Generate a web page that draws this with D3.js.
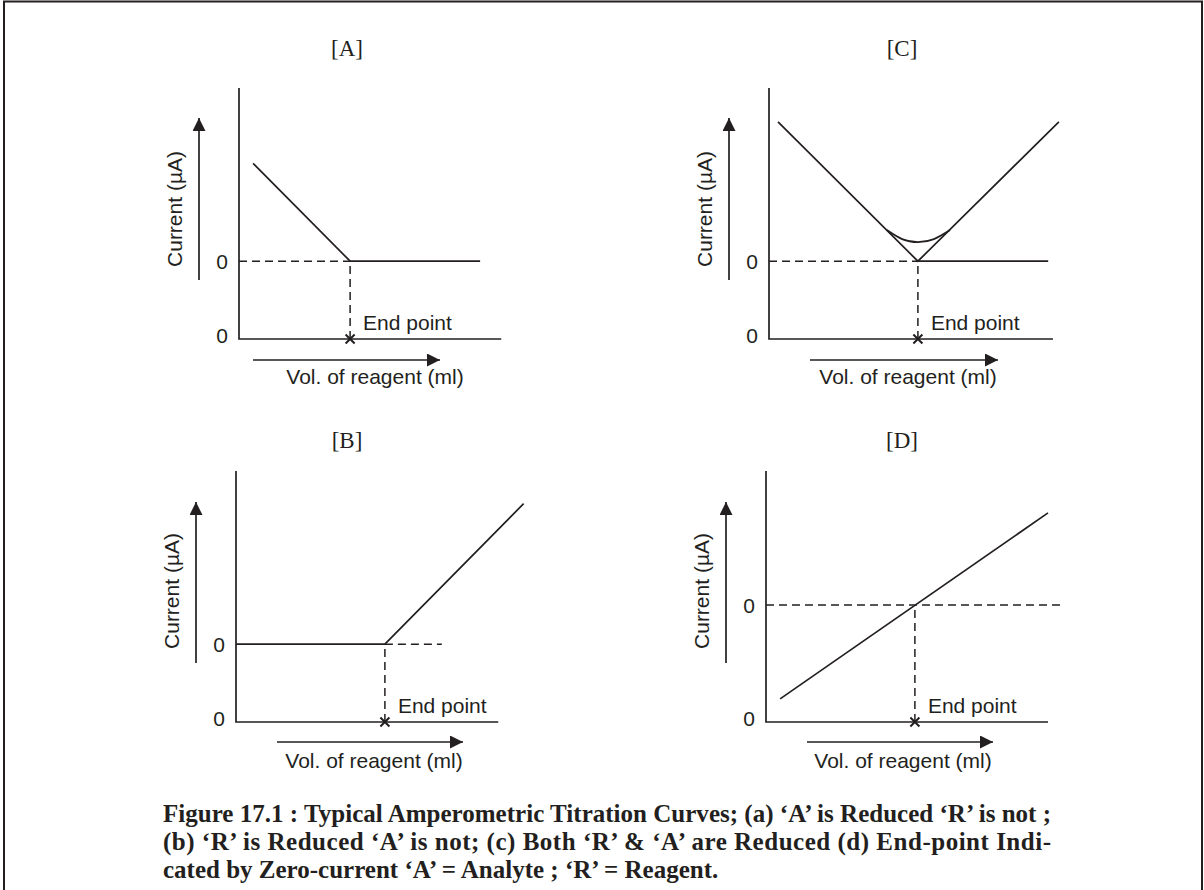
<!DOCTYPE html>
<html>
<head>
<meta charset="utf-8">
<script src="https://cdn.jsdelivr.net/npm/d3@7"></script>
<style>
  body { margin: 0; background: #fff; }
  svg { display: block; }
  .sans { font-family: "Liberation Sans", Arial, sans-serif; font-size: 21px; fill: #231f20; }
</style>
</head>
<body>
<svg width="1204" height="890"></svg>
<script>
// values, in axis units (x: volume 0-10, y: current 0-10)
const panelNames = ['[A]', '[C]', '[B]', '[D]'];
const endPoints = [3.94, 5.28, 5.28, 5.28];
const zeroLevels = [3.1, 3.1, 3.1, 4.66];

const solidA = [[[0.5, 7.0], [3.94, 3.1], [8.55, 3.1]]];
const solidC = [
  [[0.32, 8.65], [5.28, 3.1], [10.28, 8.65]],
  [[5.28, 3.1], [9.9, 3.1]]
];
const roundC = [[4.18, 4.34], [4.72, 3.98], [5.28, 3.86], [5.85, 3.98], [6.42, 4.34]];
const solidB = [[[0, 3.1], [5.28, 3.1], [10.2, 8.7]]];
const solidD = [[[0.5, 0.92], [10.0, 8.33]]];

// dashed guide ends (x from, x to) on the zero level
const dashA = [0, 3.94];
const dashC = [0, 5.28];
const dashB = [5.28, 7.3];
const dashD = [0, 10.5];

const xAxisEnds = [9.3, 10.07, 9.3, 10.0];

const caption = [
  'Figure 17.1 : Typical Amperometric Titration Curves; (a) \u2018A\u2019 is Reduced \u2018R\u2019 is not ;',
  '(b) \u2018R\u2019 is Reduced \u2018A\u2019 is not; (c) Both \u2018R\u2019 & \u2018A\u2019 are Reduced (d) End-point Indi-',
  'cated by Zero-current \u2018A\u2019 = Analyte ; \u2018R\u2019 = Reagent.'
];

// page layout
const ink = '#231f20';
const layout = [
  { x0: 239, y0: 339, tx: 347, ty: 56, yArr: [199, 280, 118], xArr: [360, 253, 440], volX: 375, volY: 384, curY: 209 },
  { x0: 769, y0: 339, tx: 902, ty: 56, yArr: [729, 280, 118], xArr: [360, 810, 998], volX: 908, volY: 384, curY: 209 },
  { x0: 236, y0: 722, tx: 347, ty: 448, yArr: [196, 663, 502], xArr: [742, 277, 463], volX: 374, volY: 768, curY: 591 },
  { x0: 766, y0: 722, tx: 902, ty: 448, yArr: [726, 663, 502], xArr: [742, 807, 993], volX: 903, volY: 768, curY: 591 }
];
const solids = [solidA, solidC, solidB, solidD];
const dashes = [dashA, dashC, dashB, dashD];

const svg = d3.select('svg');

svg.append('defs').append('marker')
  .attr('id', 'arrow')
  .attr('markerUnits', 'userSpaceOnUse')
  .attr('markerWidth', 14)
  .attr('markerHeight', 14)
  .attr('refX', 13)
  .attr('refY', 6.5)
  .attr('orient', 'auto')
  .append('path')
  .attr('d', 'M0,0 L13,6.5 L0,13 Z')
  .attr('fill', ink);

// frame
svg.append('path')
  .attr('d', 'M4,890 L4,1.5 L1202,1.5 L1202,890')
  .attr('fill', 'none')
  .attr('stroke', ink)
  .attr('stroke-width', 2);

layout.forEach((p, i) => {
  const x = d3.scaleLinear().domain([0, 10]).range([p.x0, p.x0 + 282]);
  const y = d3.scaleLinear().domain([0, 10]).range([p.y0, p.y0 - 251]);
  const line = d3.line().x(d => x(d[0])).y(d => y(d[1]));
  const g = svg.append('g');

  g.append('text')
    .attr('x', p.tx)
    .attr('y', p.ty)
    .attr('text-anchor', 'middle')
    .style('font-family', '"Liberation Serif", "Times New Roman", serif')
    .style('font-size', '23px')
    .attr('fill', ink)
    .text(panelNames[i]);

  // axes as plain lines
  g.append('path')
    .attr('d', line([[0, 10], [0, 0], [xAxisEnds[i], 0]]))
    .attr('fill', 'none')
    .attr('stroke', ink)
    .attr('stroke-width', 1.7);

  // dashed guides
  g.append('path')
    .attr('d', line([[dashes[i][0], zeroLevels[i]], [dashes[i][1], zeroLevels[i]]]))
    .attr('stroke', ink)
    .attr('stroke-width', 1.5)
    .attr('stroke-dasharray', '8,5');
  g.append('path')
    .attr('d', line([[endPoints[i], 0], [endPoints[i], zeroLevels[i]]]))
    .attr('stroke', ink)
    .attr('stroke-width', 1.5)
    .attr('stroke-dasharray', '8,5');

  g.selectAll('.curve')
    .data(solids[i])
    .enter()
    .append('path')
    .attr('class', 'curve')
    .attr('d', line)
    .attr('fill', 'none')
    .attr('stroke', ink)
    .attr('stroke-width', 1.7);

  if (i === 1) {
    g.append('path')
      .attr('d', line.curve(d3.curveNatural)(roundC))
      .attr('fill', 'none')
      .attr('stroke', ink)
      .attr('stroke-width', 1.7);
  }

  // end point cross
  g.append('path')
    .attr('d', d3.symbol(d3.symbolX, 55)())
    .attr('transform', `translate(${x(endPoints[i])},${y(0)})`)
    .attr('fill', 'none')
    .attr('stroke', ink)
    .attr('stroke-width', 2);

  // labels
  g.append('text').attr('class', 'sans')
    .attr('x', p.x0 - 11).attr('y', y(zeroLevels[i]) + 8)
    .attr('text-anchor', 'end').text('0');
  g.append('text').attr('class', 'sans')
    .attr('x', p.x0 - 11).attr('y', p.y0 + 4)
    .attr('text-anchor', 'end').text('0');
  g.append('text').attr('class', 'sans')
    .attr('x', x(endPoints[i]) + 13).attr('y', p.y0 - 9)
    .text('End point');
  g.append('text').attr('class', 'sans')
    .attr('text-anchor', 'middle')
    .attr('transform', `translate(${p.x0 - 57},${p.curY}) rotate(-90)`)
    .text('Current (\u00b5A)');
  g.append('text').attr('class', 'sans')
    .attr('x', p.volX).attr('y', p.volY)
    .attr('text-anchor', 'middle')
    .text('Vol. of reagent (ml)');

  // direction arrows
  g.append('line')
    .attr('x1', p.yArr[0]).attr('y1', p.yArr[1])
    .attr('x2', p.yArr[0]).attr('y2', p.yArr[2])
    .attr('stroke', ink).attr('stroke-width', 1.7)
    .attr('marker-end', 'url(#arrow)');
  g.append('line')
    .attr('x1', p.xArr[1]).attr('y1', p.xArr[0])
    .attr('x2', p.xArr[2]).attr('y2', p.xArr[0])
    .attr('stroke', ink).attr('stroke-width', 1.7)
    .attr('marker-end', 'url(#arrow)');
});

svg.selectAll('.caption')
  .data(caption)
  .enter()
  .append('text')
  .attr('class', 'caption')
  .attr('x', 163)
  .attr('y', (d, i) => 822 + i * 28)
  .attr('textLength', (d, i) => i < 2 ? 888 : null)
  .attr('lengthAdjust', 'spacing')
  .style('font-family', '"Liberation Serif", "Times New Roman", serif')
  .style('font-weight', 'bold')
  .style('font-size', '25px')
  .attr('fill', ink)
  .text(d => d);
</script>
</body>
</html>
